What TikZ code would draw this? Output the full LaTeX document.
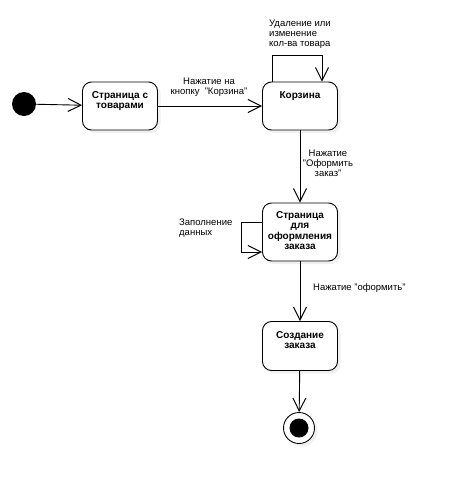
\documentclass[tikz,border=0pt]{standalone}
\usepackage{fontspec}
\setmainfont{Liberation Sans}
\usetikzlibrary{arrows.meta,positioning,shadows}

\begin{document}
\begin{tikzpicture}[x=1pt,y=-1pt,
    st/.style={draw,line width=0.9pt,rounded corners=9pt,fill=white,minimum width=75pt,
      drop shadow={shadow xshift=3pt,shadow yshift=-3pt,opacity=0.12}},
    bt/.style={font=\bfseries\fontsize{10}{10.5}\selectfont,align=center,inner sep=0pt,anchor=north},
    lb/.style={font=\fontsize{9.5}{10}\selectfont,inner sep=0pt},
    tr/.style={line width=0.9pt,-{Straight Barb[length=13pt,width=13pt,line width=1pt]}}]
  \useasboundingbox (0,0) rectangle (458,493);
  \node[circle,fill=black,inner sep=0pt,minimum size=24pt] (start) at (24,104) {};
  \node[st,minimum height=48pt] (goods) at (120,106) {};
  \node[st,minimum height=48pt] (cart) at (300,106) {};
  \node[st,minimum height=58pt] (form) at (300,232) {};
  \node[st,minimum height=49pt] (create) at (300,346) {};
  \node[circle,draw,line width=0.9pt,fill=white,minimum size=31pt,inner sep=0pt,
    drop shadow={shadow xshift=3pt,shadow yshift=-3pt,opacity=0.12}] (end) at (299,428) {};
  \node[circle,fill=black,inner sep=0pt,minimum size=19pt] (endDot) at (end) {};
  \node[bt] (goodsT) at (120,91) {Страница с\\товарами};
  \node[bt] (cartT) at (300,91) {Корзина};
  \node[bt] (formT) at (300,211) {Страница\\для\\оформления\\заказа};
  \node[bt] (createT) at (300,331) {Создание\\заказа};
  \draw[tr] (start) -- (goods);
  \draw[tr] (goods) -- (cart);
  \draw[tr] (cart) -- (form);
  \draw[tr] (form) -- (create);
  \draw[tr] (create) -- (end);
  \draw[tr] ([xshift=-28pt]cart.north) -- ++(0,-26) -| ([xshift=22pt]cart.north);
  \draw[tr] ([yshift=10pt]form.west) -- ++(-21,0) |- ([yshift=-20pt]form.west);
  \node[lb,align=left,anchor=north west] (editL) at (269,20) {Удаление или\\изменение\\кол-ва товара};
  \node[lb,align=center] (cartL) at (209,87) {Нажатие на\\кнопку~~"Корзина"};
  \node[lb,align=center] (orderL) at (328,163) {Нажатие\\"Оформить\\заказ"};
  \node[lb,align=left,anchor=north west] (fillL) at (179,219) {Заполнение\\данных};
  \node[lb,anchor=west] (doL) at (313,288) {Нажатие "оформить"};
\end{tikzpicture}
\end{document}
